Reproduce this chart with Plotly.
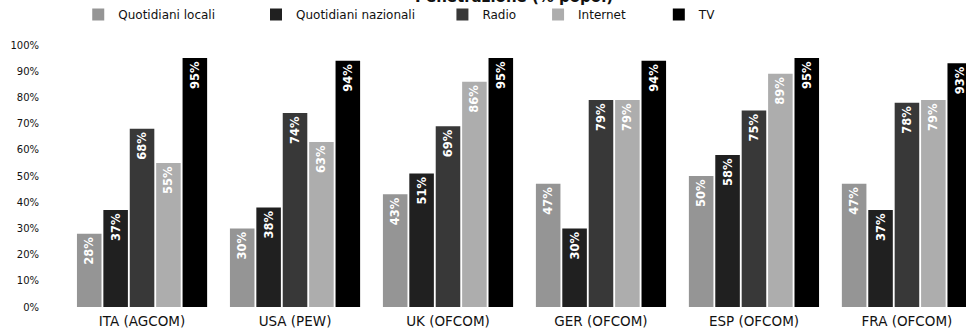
import plotly.graph_objects as go

# Sources / countries on the category axis
paesi = ["ITA (AGCOM)", "USA (PEW)", "UK (OFCOM)", "GER (OFCOM)", "ESP (OFCOM)", "FRA (OFCOM)"]

# Share of population reached by each medium (%)
quotidiani_locali = [28, 30, 43, 47, 50, 47]
quotidiani_nazionali = [37, 38, 51, 30, 58, 37]
radio = [68, 74, 69, 79, 75, 78]
internet = [55, 63, 86, 79, 89, 79]
tv = [95, 94, 95, 94, 95, 93]

# name, values, fill colour, legend id, legend left edge (fraction of page width)
serie = [
    ("Quotidiani locali", quotidiani_locali, "#959595", "legend", 0.081),
    ("Quotidiani nazionali", quotidiani_nazionali, "#202020", "legend2", 0.265),
    ("Radio", radio, "#383838", "legend3", 0.458),
    ("Internet", internet, "#adadad", "legend4", 0.557),
    ("TV", tv, "#000000", "legend5", 0.682),
]

FONT = "DejaVu Sans"

fig = go.Figure()
legend_layout = {}
for nome, valori, colore, leg, leg_x in serie:
    fig.add_trace(go.Bar(
        name=nome,
        x=paesi,
        y=valori,
        legend=leg,
        marker=dict(color=colore, line=dict(width=0)),
        texttemplate="%{y}",
        textposition="inside",
        insidetextanchor="end",
        textangle=-90,
        textfont=dict(family=FONT, size=11.5, color="white", weight="bold"),
        cliponaxis=True,
    ))
    legend_layout[leg] = dict(
        orientation="h",
        xref="container", yref="container",
        x=leg_x, y=1.0,
        xanchor="left", yanchor="top",
        font=dict(family=FONT, size=12, color="#111111"),
        bgcolor="rgba(0,0,0,0)",
    )

# Chart title, sitting at the very top edge of the page
fig.add_annotation(
    text="Penetrazione (% popol)",
    xref="paper", yref="paper",
    x=0.512, y=1.182,
    xanchor="center", yanchor="middle",
    showarrow=False,
    font=dict(family=FONT, size=15, color="#111111", weight="bold"),
)

fig.update_layout(
    width=966, height=329,
    margin=dict(l=40, r=0, t=45, b=22),
    paper_bgcolor="white",
    plot_bgcolor="white",
    barmode="group",
    bargap=0.137,
    bargroupgap=0.07,
    font=dict(family=FONT, color="#111111"),
    showlegend=True,
    xaxis=dict(
        type="category",
        range=[-0.667, 5.386],
        showgrid=False, zeroline=False, showline=False,
        ticks="",
        ticklabelstandoff=4,
        tickfont=dict(family=FONT, size=13.5, color="#111111"),
    ),
    yaxis=dict(
        range=[0, 100],
        dtick=10,
        ticksuffix="%",
        showgrid=False, zeroline=False, showline=False,
        ticks="",
        tickfont=dict(family=FONT, size=10, color="#111111"),
    ),
    **legend_layout,
)

fig.write_html("out.html")
